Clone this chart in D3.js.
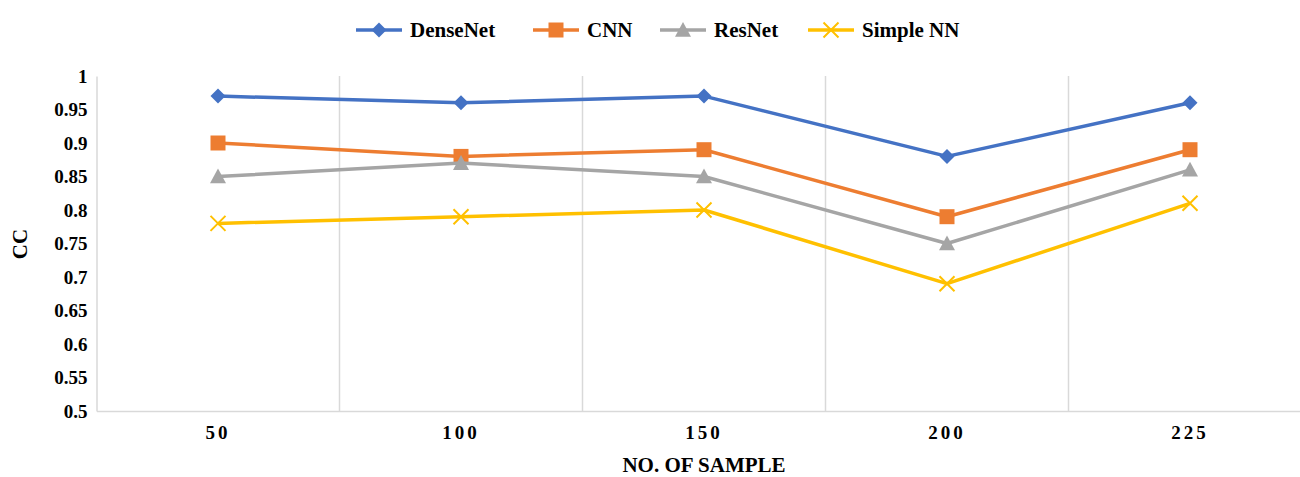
<!DOCTYPE html>
<html>
<head>
<meta charset="utf-8">
<script src="https://cdn.jsdelivr.net/npm/d3@7"></script>
<style>
  html, body { margin: 0; padding: 0; background: #fff; }
  svg { display: block; font-family: "Liberation Serif", "Times New Roman", serif; font-weight: bold; }
</style>
</head>
<body>
<svg id="chart" width="1300" height="477"></svg>
<script>
// Sample counts on the category axis
const categories = ["50", "100", "150", "200", "225"];

// CC per model
const denseNet = [0.97, 0.96, 0.97, 0.88, 0.96];
const cnn      = [0.90, 0.88, 0.89, 0.79, 0.89];
const resNet   = [0.85, 0.87, 0.85, 0.75, 0.86];
const simpleNN = [0.78, 0.79, 0.80, 0.69, 0.81];

const seriesNames = ["DenseNet", "CNN", "ResNet", "Simple NN"];
const yTicks = [0.5, 0.55, 0.6, 0.65, 0.7, 0.75, 0.8, 0.85, 0.9, 0.95, 1];

const series = [
  { name: seriesNames[0], values: denseNet, color: "#4472C4", symbol: "diamond" },
  { name: seriesNames[1], values: cnn,      color: "#ED7D31", symbol: "square" },
  { name: seriesNames[2], values: resNet,   color: "#A5A5A5", symbol: "triangle" },
  { name: seriesNames[3], values: simpleNN, color: "#FFC000", symbol: "cross" }
];

const svg = d3.select("#chart");
const plot = { left: 96.5, right: 1311.5, top: 76, bottom: 411 };

const x = d3.scaleBand().domain(categories).range([plot.left, plot.right]).padding(0);
const y = d3.scaleLinear().domain([0.5, 1]).range([plot.bottom, plot.top]);
const cx = d => x(d) + x.bandwidth() / 2;

// vertical gridlines between categories
const xGrid = d3.axisBottom(x).tickSize(-(plot.bottom - plot.top)).tickFormat("");
const gGrid = svg.append("g").attr("transform", `translate(0,${plot.bottom})`).call(xGrid);
gGrid.select(".domain").remove();
gGrid.selectAll(".tick")
  .attr("transform", (d, i) => `translate(${x(d) + x.bandwidth()},0)`)
  .filter((d, i) => i === categories.length - 1).remove();
gGrid.selectAll(".tick line").attr("stroke", "#d9d9d9").attr("stroke-width", 1.5);

// y axis line and tick labels
const yAxis = d3.axisLeft(y).tickValues(yTicks).tickSize(0).tickPadding(9)
  .tickFormat(d => d3.format("")(+d.toFixed(2)));
const gy = svg.append("g").attr("transform", `translate(${plot.left},0)`).call(yAxis);
gy.select(".domain").attr("stroke", "#d9d9d9").attr("stroke-width", 1.5);
gy.selectAll(".tick text")
  .attr("font-family", "Liberation Serif, serif").attr("font-weight", "bold")
  .attr("font-size", 19).attr("fill", "#000");

// x axis line and category labels
const xAxis = d3.axisBottom(x).tickSize(0).tickPadding(15);
const gx = svg.append("g").attr("transform", `translate(0,${plot.bottom})`).call(xAxis);
gx.select(".domain").attr("stroke", "#d9d9d9").attr("stroke-width", 1.5);
gx.selectAll(".tick text")
  .attr("font-family", "Liberation Serif, serif").attr("font-weight", "bold")
  .attr("font-size", 19).attr("letter-spacing", "3px").attr("fill", "#000");

// axis titles
svg.append("text")
  .attr("x", 704).attr("y", 472)
  .attr("text-anchor", "middle").attr("font-size", 21).attr("fill", "#000")
  .text("NO. OF SAMPLE");
svg.append("text")
  .attr("transform", "translate(27,244) rotate(-90)")
  .attr("text-anchor", "middle").attr("font-size", 21).attr("fill", "#000")
  .text("CC");

const symbolPath = (type, size) => {
  const s = size / 2;
  if (type === "diamond") return `M0,${-s}L${s},0L0,${s}L${-s},0Z`;
  if (type === "square") return `M${-s},${-s}H${s}V${s}H${-s}Z`;
  if (type === "triangle") return `M0,${-s}L${s},${s * 0.85}L${-s},${s * 0.85}Z`;
  return `M${-s},${-s}L${s},${s}M${s},${-s}L${-s},${s}`;
};
const markerSize = { diamond: 15, square: 15, triangle: 16, cross: 15 };

const line = d3.line().x((d, i) => cx(categories[i])).y(d => y(d));

series.forEach(s => {
  svg.append("path")
    .datum(s.values)
    .attr("fill", "none")
    .attr("stroke", s.color)
    .attr("stroke-width", 3.5)
    .attr("stroke-linejoin", "round")
    .attr("d", line);

  svg.append("g").selectAll("path")
    .data(s.values)
    .join("path")
    .attr("transform", (d, i) => `translate(${cx(categories[i])},${y(d)})`)
    .attr("d", symbolPath(s.symbol, markerSize[s.symbol]))
    .attr("fill", s.symbol === "cross" ? "none" : s.color)
    .attr("stroke", s.color)
    .attr("stroke-width", s.symbol === "cross" ? 2 : 0);
});

// legend
const legendX = [356, 533, 660, 808];
const legend = svg.append("g");
series.forEach((s, i) => {
  const g = legend.append("g").attr("transform", `translate(${legendX[i]},30)`);
  g.append("line").attr("x1", 0).attr("x2", 46).attr("y1", 0).attr("y2", 0)
    .attr("stroke", s.color).attr("stroke-width", 3.5);
  g.append("path")
    .attr("transform", "translate(23,0)")
    .attr("d", symbolPath(s.symbol, markerSize[s.symbol]))
    .attr("fill", s.symbol === "cross" ? "none" : s.color)
    .attr("stroke", s.color)
    .attr("stroke-width", s.symbol === "cross" ? 2 : 0);
  g.append("text").attr("x", 54).attr("y", 7)
    .attr("font-size", 21).attr("fill", "#000")
    .text(s.name);
});
</script>
</body>
</html>
